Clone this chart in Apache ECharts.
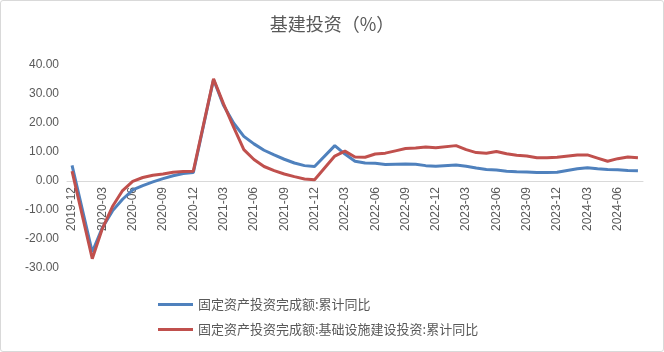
<!DOCTYPE html>
<html>
<head>
<meta charset="utf-8">
<script src="https://cdn.jsdelivr.net/npm/echarts@6/dist/echarts.min.js"></script>
<style>
  html, body { margin: 0; padding: 0; background: #fff; }
  #chart { width: 662px; height: 350px; border: 1px solid #d9d9d9; border-radius: 3px; }
</style>
</head>
<body>
<div id="chart"></div>
<script>
  // months 2019-12 .. 2024-08 (January has no release, left empty)
  var months = ['2019-12']
  for (var y = 2020; y <= 2024; y++) {
    for (var m = 1; m <= 12; m++) {
      if (y === 2024 && m > 8) break
      months.push(y + '-' + (m < 10 ? '0' + m : m))
    }
  }

  // 固定资产投资完成额:累计同比
  var faiTotal = [
    5.4,
    null, -24.5, -16.1, -10.3, -6.3, -3.1, -1.6, -0.3, 0.8, 1.8, 2.6, 2.9,
    null, 35.0, 26.0, 19.9, 15.4, 12.8, 10.6, 9.0, 7.5, 6.2, 5.3, 5.0,
    null, 12.2, 9.3, 6.8, 6.2, 6.1, 5.7, 5.8, 5.9, 5.8, 5.3, 5.1,
    null, 5.5, 5.1, 4.5, 4.0, 3.8, 3.4, 3.2, 3.1, 2.9, 2.9, 3.0,
    null, 4.2, 4.6, 4.2, 4.0, 3.9, 3.6, 3.5
  ]

  // 固定资产投资完成额:基础设施建设投资:累计同比
  var faiInfra = [
    3.4,
    null, -26.8, -16.4, -8.8, -3.3, -0.1, 1.2, 2.0, 2.4, 3.0, 3.3, 3.4,
    null, 35.2, 26.5, 18.5, 10.8, 7.4, 5.0, 3.6, 2.4, 1.5, 0.7, 0.4,
    null, 8.6, 10.3, 8.3, 8.2, 9.3, 9.6, 10.4, 11.2, 11.4, 11.7, 11.5,
    null, 12.2, 10.8, 9.8, 9.6, 10.2, 9.4, 8.9, 8.6, 8.0, 8.0, 8.2,
    null, 9.0, 9.0, 7.9, 6.8, 7.7, 8.3, 8.0
  ]

  var yMin = -30, yMax = 40
  var gridTop = 64, gridBottom = 83, chartH = 350
  // put the category axis (line + labels) on the zero line
  var zeroOffset = (chartH - gridTop - gridBottom) * (0 - yMin) / (yMax - yMin)

  var chart = echarts.init(document.getElementById('chart'))
  chart.setOption({
    animation: false,
    title: {
      text: '基建投资（%）',
      left: 'center',
      top: 9,
      textStyle: {
        fontFamily: 'Noto Sans CJK SC',
        fontWeight: 'normal',
        fontSize: 18,
        color: '#595959'
      }
    },
    legend: {
      orient: 'vertical',
      left: 152,
      top: 292,
      itemGap: 12,
      itemWidth: 35,
      itemHeight: 3,
      icon: 'rect',
      textStyle: {
        fontFamily: 'Noto Sans CJK SC',
        fontSize: 13,
        color: '#595959'
      },
      data: ['固定资产投资完成额:累计同比', '固定资产投资完成额:基础设施建设投资:累计同比']
    },
    grid: {
      left: 66,
      right: 20,
      top: gridTop,
      bottom: gridBottom
    },
    xAxis: {
      type: 'category',
      data: months,
      position: 'bottom',
      offset: -zeroOffset,
      boundaryGap: true,
      axisLine: { onZero: false, lineStyle: { color: '#d9d9d9', width: 1 } },
      axisTick: { interval: 2, length: 5, lineStyle: { color: '#d9d9d9' } },
      axisLabel: {
        interval: 2,
        rotate: 90,
        margin: 6,
        fontSize: 12,
        fontFamily: 'Liberation Sans',
        color: '#595959'
      }
    },
    yAxis: {
      type: 'value',
      min: yMin,
      max: yMax,
      interval: 10,
      axisLine: { show: false },
      axisTick: { show: false },
      splitLine: { show: false },
      axisLabel: {
        margin: 8,
        fontSize: 12,
        fontFamily: 'Liberation Sans',
        color: '#595959',
        formatter: function (v) { return v.toFixed(2) }
      }
    },
    series: [{
      name: '固定资产投资完成额:累计同比',
      type: 'line',
      data: faiTotal,
      connectNulls: true,
      showSymbol: false,
      itemStyle: { color: '#4F81BD' },
      lineStyle: { width: 3, color: '#4F81BD' }
    }, {
      name: '固定资产投资完成额:基础设施建设投资:累计同比',
      type: 'line',
      data: faiInfra,
      connectNulls: true,
      showSymbol: false,
      itemStyle: { color: '#C0504D' },
      lineStyle: { width: 3, color: '#C0504D' }
    }]
  })
</script>
</body>
</html>
